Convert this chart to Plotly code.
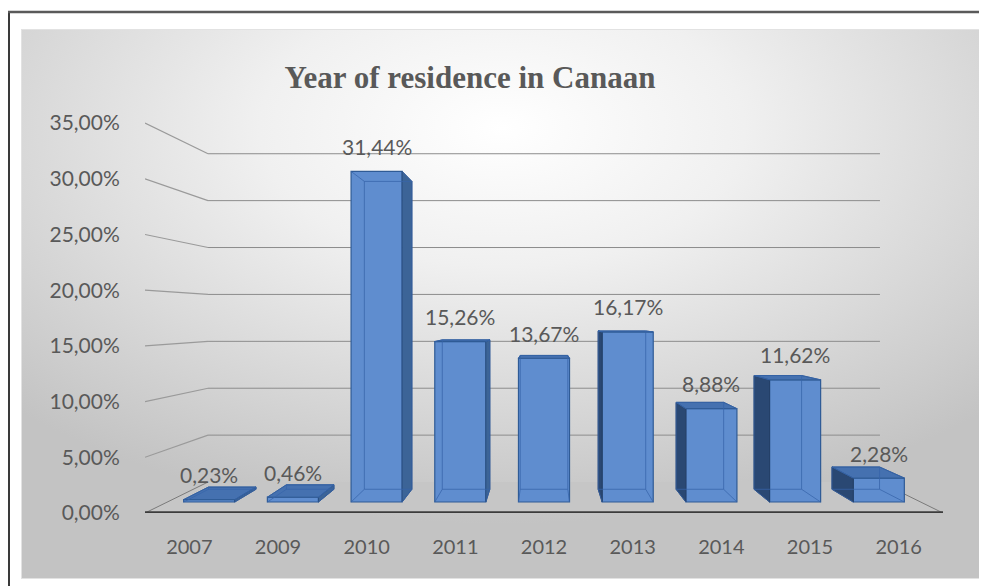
import base64
import plotly.graph_objects as go

# ---------------- data ----------------
years = ["2007", "2009", "2010", "2011", "2012", "2013", "2014", "2015", "2016"]
shares = [0.23, 0.46, 31.44, 15.26, 13.67, 16.17, 8.88, 11.62, 2.28]
y_ticks = [0, 5, 10, 15, 20, 25, 30, 35]
y_tick_labels = [f"{t:.2f}".replace(".", ",") + "%" for t in y_ticks]
title_text = "Year of residence in Canaan"

# ---------------- geometry (screen pixels) ----------------
FIG_W, FIG_H = 987, 586
OFF = 8                         # page body margin
PL, PR, PT, PB = 145, 943, 100, 513
n = len(years)
CAT_PX = (PR - PL) / n
PCT_PX = 11.14
VX, VY = 544.0, 317.0          # vanishing point of the 3-D view
K_BAR_FRONT, K_BAR_BACK, K_WALL = 0.944, 0.879, 0.842
HALF_W = 0.305

TXT = "#595959"
FONT = "Lato, Open Sans, sans-serif"


def x2px(x):
    return PL + (x + 0.5) * CAT_PX


def y2px(v):
    return PB - v * PCT_PX


def px2x(p):
    return (p - PL) / CAT_PX - 0.5


def px2y(p):
    return (PB - p) / PCT_PX


def depth(x, v, k):
    """front-plane data point pushed back to depth k, in main-axis data units"""
    return (px2x(VX + k * (x2px(x) - VX)), px2y(VY + k * (y2px(v) - VY)))


def xp(p):
    return (p - PL) / (PR - PL)


def yp(p):
    return (PB - p) / (PB - PT)


def path(pts):
    return "M " + " L ".join(f"{a:.5f},{b:.5f}" for a, b in pts) + " Z"


shapes = []

# floor
floor = [(-0.5, 0), (n - 0.5, 0), depth(n - 0.5, 0, K_WALL), depth(-0.5, 0, K_WALL)]
shapes.append(dict(type="path", path=path(floor), xref="x", yref="y",
                   fillcolor="#c6c6c6", line=dict(width=0), layer="below"))

# back-wall gridlines and left-wall connectors
for v in y_ticks[1:]:
    a = depth(-0.5, v, K_WALL)
    b = depth(n - 0.5, v, K_WALL)
    shapes.append(dict(type="line", xref="x", yref="y", x0=a[0], y0=a[1], x1=b[0], y1=b[1],
                       line=dict(color="#8c8c8c", width=1), layer="below"))
    shapes.append(dict(type="line", xref="x", yref="y", x0=-0.5, y0=v, x1=a[0], y1=a[1],
                       line=dict(color="#9a9a9a", width=1.2), layer="below"))

# floor side edges and front edge
for xe in (-0.5, n - 0.5):
    a = depth(xe, 0, K_WALL)
    shapes.append(dict(type="line", xref="x", yref="y", x0=xe, y0=0, x1=a[0], y1=a[1],
                       line=dict(color="#7a7a7a", width=1), layer="below"))
shapes.append(dict(type="line", xref="x", yref="y", x0=-0.5, y0=0, x1=n - 0.5, y1=0,
                   line=dict(color="#3c3c3c", width=3.5), layer="below"))

# 3-D faces of the bars
for i, v in enumerate(shares):
    xl, xr = i - HALF_W, i + HALF_W
    fbl, fbr = depth(xl, 0, K_BAR_FRONT), depth(xr, 0, K_BAR_FRONT)
    ftl, ftr = depth(xl, v, K_BAR_FRONT), depth(xr, v, K_BAR_FRONT)
    bbl, bbr = depth(xl, 0, K_BAR_BACK), depth(xr, 0, K_BAR_BACK)
    btl, btr = depth(xl, v, K_BAR_BACK), depth(xr, v, K_BAR_BACK)
    if x2px(xr) < VX - 1:
        shapes.append(dict(type="path", xref="x", yref="y", path=path([fbr, ftr, btr, bbr]),
                           fillcolor="#3c6497", line=dict(color="#2a4f82", width=1)))
    elif x2px(xl) > VX + 1:
        shapes.append(dict(type="path", xref="x", yref="y", path=path([fbl, ftl, btl, bbl]),
                           fillcolor="#2a4873", line=dict(color="#243f66", width=1)))
    if y2px(v) > VY:
        shapes.append(dict(type="path", xref="x", yref="y", path=path([ftl, ftr, btr, btl]),
                           fillcolor="#4571b0", line=dict(color="#2f5b96", width=1)))
    inner = [(bbl, bbr), (bbr, btr), (btr, btl), (btl, bbl),
             (fbl, bbl), (fbr, bbr), (ftl, btl), (ftr, btr)]
    for p, q in inner:
        shapes.append(dict(type="line", xref="x", yref="y", x0=p[0], y0=p[1], x1=q[0], y1=q[1],
                           line=dict(color="rgba(55,100,170,0.75)", width=1)))

# outer frame (left edge kept just inside the page)
shapes.append(dict(type="line", xref="paper", yref="paper", x0=xp(9), x1=xp(9), y0=yp(12), y1=yp(600),
                   line=dict(color="#3a3a3a", width=2)))
shapes.append(dict(type="line", xref="paper", yref="paper", x0=xp(8), x1=xp(1000), y0=yp(12), y1=yp(12),
                   line=dict(color="#5a5a5a", width=2.5)))

# gradient panel background
svg = ('<svg xmlns="http://www.w3.org/2000/svg" width="962" height="550">'
       '<defs><radialGradient id="g" cx="0.5" cy="0.18" r="0.72">'
       '<stop offset="0" stop-color="#ffffff"/><stop offset="0.35" stop-color="#f0f0f0"/>'
       '<stop offset="1" stop-color="#c3c3c3"/></radialGradient></defs>'
       '<rect width="962" height="550" fill="url(#g)" stroke="#e2e2e2" stroke-width="2"/></svg>')
img_src = "data:image/svg+xml;base64," + base64.b64encode(svg.encode()).decode()

# ---------------- figure ----------------
fig = go.Figure()
fig.add_trace(go.Bar(
    x=list(range(n)), y=shares, width=2 * HALF_W,
    xaxis="x2", yaxis="y2",
    marker=dict(color="#5f8dcf", line=dict(color="#2f5b96", width=1.2)),
    hovertext=years, hoverinfo="text+y",
))

annotations = []
for i, v in enumerate(shares):
    annotations.append(dict(x=i, y=v, xref="x2", yref="y2", yshift=25, showarrow=False,
                            text=f"{v:.2f}".replace(".", ",") + "%",
                            font=dict(family=FONT, size=21, color=TXT),
                            xanchor="center", yanchor="middle"))

x2_range = [px2x(VX + (PL - VX) / K_BAR_FRONT), px2x(VX + (PR - VX) / K_BAR_FRONT)]
y2_range = [px2y(VY + (PB - VY) / K_BAR_FRONT), px2y(VY + (PT - VY) / K_BAR_FRONT)]

fig.update_layout(
    width=FIG_W, height=FIG_H,
    margin=dict(l=PL - OFF, r=FIG_W - (PR - OFF), t=PT - OFF, b=FIG_H - (PB - OFF),
                pad=0, autoexpand=False),
    paper_bgcolor="white", plot_bgcolor="rgba(0,0,0,0)",
    showlegend=False,
    title=dict(text="<b>" + title_text + "</b>", x=(470 - OFF) / FIG_W, xanchor="center",
               y=1 - (77 - OFF) / FIG_H, yanchor="middle", yref="container",
               font=dict(family="Liberation Serif, Times New Roman, serif", size=31, color=TXT)),
    xaxis=dict(range=[-0.5, n - 0.5], tickmode="array", tickvals=list(range(n)), ticktext=years,
               ticks="outside", ticklen=16, tickcolor="rgba(0,0,0,0)",
               showgrid=False, zeroline=False, showline=False, automargin=False,
               tickfont=dict(family=FONT, size=20, color=TXT)),
    yaxis=dict(range=[0, px2y(PT)], tickmode="array", tickvals=y_ticks, ticktext=y_tick_labels,
               ticks="outside", ticklen=20, tickcolor="rgba(0,0,0,0)",
               showgrid=False, zeroline=False, showline=False, automargin=False,
               tickfont=dict(family=FONT, size=21, color=TXT)),
    xaxis2=dict(overlaying="x", range=x2_range, visible=False, anchor="y2"),
    yaxis2=dict(overlaying="y", range=y2_range, visible=False, anchor="x2"),
    shapes=shapes,
    annotations=annotations,
    images=[dict(source=img_src, xref="paper", yref="paper", x=xp(21), y=yp(29),
                 sizex=(983 - 21) / (PR - PL), sizey=(579 - 29) / (PB - PT),
                 xanchor="left", yanchor="top", sizing="stretch", layer="below")],
)

fig.write_html("out.html")
